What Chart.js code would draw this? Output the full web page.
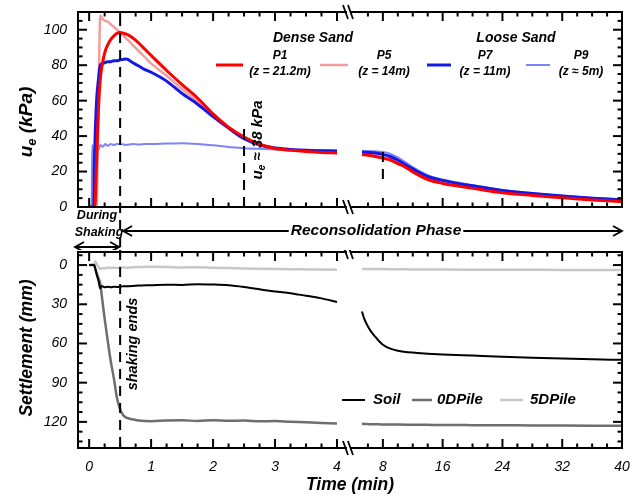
<!DOCTYPE html>
<html>
<head>
<meta charset="utf-8">
<script src="https://cdn.jsdelivr.net/npm/chart.js@4.4.1/dist/chart.umd.min.js"></script>
<style>
body { margin: 0; background: #fff; }
#wrap { position: relative; width: 640px; height: 497px; }
#cTop { position: absolute; left: 0; top: 0; }
#cBot { position: absolute; left: 0; top: 250px; }
</style>
</head>
<body>
<div id="wrap">
<canvas id="cTop" width="640" height="250"></canvas>
<canvas id="cBot" width="640" height="247"></canvas>
</div>
<script>
// ---- excess pore pressure, u_e (kPa) ----
// left part of the broken time axis (min)
var tTopL = [0, 0.04, 0.05, 0.07, 0.09, 0.12, 0.15, 0.18, 0.22, 0.26, 0.3, 0.35, 0.4, 0.45, 0.5, 0.6, 0.7, 0.8, 0.9, 1.0, 1.25, 1.5, 1.75, 2.0, 2.25, 2.5, 2.75, 3.0, 3.25, 3.5, 3.75, 4.0];
var p1L = [0, 0, 0, 0, 0, 25, 55, 72, 82, 88, 91.5, 94.5, 96.5, 98, 98.5, 97.5, 95.5, 92.5, 89, 85.5, 77, 69, 61.5, 52.5, 45, 39.5, 35.5, 33, 32, 31.3, 30.8, 30.5];
var p5L = [0, 0, 0, 0, 0, 0, 60, 108, 106, 105, 104.5, 103, 101.5, 100, 98.5, 95, 91.5, 88, 84.5, 81, 74, 66.5, 59.5, 51.5, 44.5, 39, 35.5, 33.5, 32.5, 31.8, 31.3, 31];
var p7L = [0, 0, 0, 0, 32, 60, 72, 80, 81, 81.5, 82, 82, 82.5, 82.5, 83, 83.5, 81.5, 79.5, 77.5, 76, 71, 64, 58, 51, 44.5, 38.5, 35, 33.3, 32.5, 32, 31.7, 31.5];
var p9L = [0, 0, 35, 28, 33, 34.5, 32, 35, 34, 35.5, 34.5, 35.5, 35, 35.5, 35.5, 35, 35.5, 35.3, 35.5, 35.5, 35.8, 36, 35.6, 34.8, 33.8, 33.2, 32.8, 32.5, 32.3, 32.2, 32, 32];
// right part of the broken time axis (min)
var tTopR = [5.2, 6, 7, 8, 9, 10, 11, 12, 14, 16, 18, 20, 24, 28, 32, 36, 40];
var p1R = [29.5, 29.2, 28.5, 27.5, 26.5, 24.5, 22.5, 19.8, 15.5, 13.3, 11.8, 10.5, 8, 6.5, 5.2, 4, 3];
var p5R = [30.3, 30.1, 29.6, 29, 28, 26, 23.5, 21, 16.5, 14.2, 12.5, 11.1, 8.6, 7, 5.6, 4.4, 3.4];
var p7R = [31, 30.8, 30.5, 29.7, 28.5, 26.5, 24, 21.5, 17.2, 15, 13.3, 12, 9.3, 7.6, 6.2, 5, 4];
var p9R = [31.6, 31.6, 31.4, 31, 30, 28, 25.3, 22.5, 18, 15.5, 13.8, 12.3, 9.6, 7.8, 6.4, 5.2, 4.2];

// ---- settlement (mm) ----
var tBotL = [0, 0.06, 0.08, 0.1, 0.12, 0.15, 0.18, 0.2, 0.25, 0.3, 0.35, 0.4, 0.45, 0.5, 0.55, 0.6, 0.7, 0.8, 1.0, 1.25, 1.5, 1.75, 2.0, 2.25, 2.5, 2.75, 3.0, 3.25, 3.5, 3.75, 4.0];
var soilL = [0, 0, 0, 3, 7, 12, 18, 16, 17, 16.5, 17, 16.5, 16.8, 16.5, 16.3, 16.2, 16, 15.7, 15.4, 15, 15.2, 14.6, 14.9, 15.5, 16.8, 18.5, 20.3, 21.5, 23.5, 25.5, 28.2];
var pile0L = [0, 0, 0, 3, 6, 10, 14, 22, 41, 58, 74, 87, 102, 110.5, 115, 116.8, 118, 119, 119.5, 119, 118.8, 119.3, 118.7, 119.2, 119, 119.6, 119.4, 120, 120.3, 120.8, 121.3];
var pile5L = [0, 0, 0, -3, -1, 1.5, 3, 2.5, 2.5, 2, 2.2, 2, 2.3, 2, 1.8, 2, 1.7, 1.5, 1.3, 1.5, 1.8, 1.6, 2, 2.3, 2.6, 2.8, 3, 3.2, 3.3, 3.4, 3.5];
var tBotR = [5.2, 5.5, 6, 6.5, 7, 7.5, 8, 9, 10, 12, 14, 16, 20, 24, 28, 32, 36, 40];
var soilR = [35.5, 41, 47, 51.5, 55, 58.3, 61, 64, 65.5, 67, 67.8, 68.4, 69.3, 70.2, 71, 71.6, 72.1, 72.5];
var pile0R = [121.5, 121.6, 121.7, 121.8, 121.8, 121.9, 122, 122, 122.1, 122.2, 122.3, 122.4, 122.5, 122.6, 122.7, 122.8, 122.9, 123];
var pile5R = [3, 3, 3, 3, 3.1, 3.1, 3.1, 3.2, 3.2, 3.3, 3.3, 3.4, 3.5, 3.5, 3.6, 3.7, 3.7, 3.8];

// tick labels
var uTicks = [0, 20, 40, 60, 80, 100];
var sTicks = [0, 30, 60, 90, 120];
var tTicksL = [0, 1, 2, 3, 4];
var tTicksR = [8, 16, 24, 32, 40];

// legend text
var probeNames = ['P1', 'P5', 'P7', 'P9'];
var probeDepths = ['(z = 21.2m)', '(z = 14m)', '(z = 11m)', '(z \u2248 5m)'];
var settleNames = ['Soil', '0DPile', '5DPile'];

var shakeEnd = 0.5;   // min
var ueMarkT = 2.5;    // min, u_e ~ 38 kPa marker

var FONT = '"Liberation Sans", Arial, sans-serif';
var probeColors = ['#ff0000', '#f59c9c', '#1418e6', '#7d84f4'];
var probeWidths = [3, 2.5, 3, 2];
var settleColors = ['#000000', '#6e6e6e', '#c8c8c8'];
var settleWidths = [2, 2.5, 2.5];

Chart.defaults.font.family = FONT;
Chart.defaults.color = '#000';

function pts(t, v) {
    return t.map(function (x, i) { return { x: x, y: v[i] }; });
}

function ds(label, t, v, color, w, axis) {
    return {
        label: label, data: pts(t, v), xAxisID: axis, yAxisID: 'y',
        borderColor: color, backgroundColor: color, borderWidth: w,
        pointRadius: 0, fill: false, cubicInterpolationMode: 'monotone'
    };
}

function font(size, bold) {
    return 'italic ' + (bold ? 'bold ' : '') + size + 'px ' + FONT;
}

function seg(ctx, x1, y1, x2, y2) {
    ctx.beginPath(); ctx.moveTo(x1, y1); ctx.lineTo(x2, y2); ctx.stroke();
}

function txt(ctx, s, x, y, size, align) {
    ctx.font = font(size, true);
    ctx.textAlign = align || 'center';
    ctx.textBaseline = 'middle';
    ctx.fillStyle = '#000';
    ctx.fillText(s, x, y);
}

// text with a subscript, parts = [text, size, dy]
function subText(ctx, parts, x, y, rot) {
    ctx.save();
    ctx.translate(x, y);
    if (rot) ctx.rotate(rot);
    var w = 0;
    parts.forEach(function (p) { ctx.font = font(p[1], true); w += ctx.measureText(p[0]).width; });
    var cx = -w / 2;
    ctx.textAlign = 'left'; ctx.textBaseline = 'middle'; ctx.fillStyle = '#000';
    parts.forEach(function (p) {
        ctx.font = font(p[1], true);
        ctx.fillText(p[0], cx, p[2]);
        cx += ctx.measureText(p[0]).width;
    });
    ctx.restore();
}

function arrowHead(ctx, x, y, dir) {
    ctx.beginPath();
    ctx.moveTo(x - dir * 9, y - 5); ctx.lineTo(x, y); ctx.lineTo(x - dir * 9, y + 5);
    ctx.stroke();
}

function isMajor(v, step) {
    return Math.abs(v / step - Math.round(v / step)) < 1e-6;
}

// box with inward ticks on all four sides and the axis break marks, drawn last
function framePlugin(conf) {
    return {
        id: 'frameTicks',
        afterDraw: function (chart) {
            var ctx = chart.ctx, a = chart.chartArea;
            ctx.save();
            ctx.setLineDash([]);
            ctx.globalAlpha = 1;
            ctx.strokeStyle = '#000';
            ctx.lineWidth = 2;
            conf.x.forEach(function (c) {
                var s = chart.scales[c.id];
                var k0 = Math.ceil(s.min / c.minor - 1e-9), k1 = Math.floor(s.max / c.minor + 1e-9);
                for (var k = k0; k <= k1; k++) {
                    var v = k * c.minor, px = s.getPixelForValue(v);
                    if (px < s.left + 3 || px > s.right - 2) continue;
                    var len = isMajor(v, c.major) ? 9 : 4.5;
                    seg(ctx, px, a.top, px, a.top + len);
                    seg(ctx, px, a.bottom, px, a.bottom - len);
                }
            });
            var sy = chart.scales.y;
            var j0 = Math.ceil(sy.min / conf.y.minor - 1e-9), j1 = Math.floor(sy.max / conf.y.minor + 1e-9);
            for (var j = j0; j <= j1; j++) {
                var vy = j * conf.y.minor, py = sy.getPixelForValue(vy);
                if (py < a.top + 2 || py > a.bottom - 2) continue;
                var ly = isMajor(vy, conf.y.major) ? 9 : 4.5;
                seg(ctx, a.left, py, a.left + ly, py);
                seg(ctx, a.right, py, a.right - ly, py);
            }
            ctx.strokeRect(a.left, a.top, a.right - a.left, a.bottom - a.top);
            var bx = chart.scales.xL.right;
            ctx.lineWidth = 1.8;
            [a.top, a.bottom].forEach(function (yy) {
                ctx.fillStyle = '#fff';
                ctx.fillRect(bx - 3, yy - 1.5, 4, 3);
                seg(ctx, bx - 7, yy - 7, bx - 2, yy + 7);
                seg(ctx, bx - 2, yy - 7, bx + 3, yy + 7);
            });
            ctx.restore();
        }
    };
}

function xScale(min, max, ticks, labels, h) {
    return {
        type: 'linear', position: 'bottom', stack: 'time', stackWeight: 1,
        min: min, max: max,
        afterBuildTicks: function (s) { s.ticks = ticks.map(function (v) { return { value: v }; }); },
        afterFit: function (s) { s.height = h; s.paddingLeft = 0; s.paddingRight = 0; s.paddingTop = 0; s.paddingBottom = 0; },
        grid: { display: false, drawTicks: false },
        border: { display: false },
        ticks: { display: labels, padding: 11, autoSkip: false, maxRotation: 0, font: { size: 14, style: 'italic' }, color: '#000' }
    };
}

function yScale(min, max, ticks, rev) {
    return {
        type: 'linear', position: 'left', min: min, max: max, reverse: !!rev,
        afterBuildTicks: function (s) { s.ticks = ticks.map(function (v) { return { value: v }; }); },
        afterFit: function (s) { s.width = 78; s.paddingLeft = 0; s.paddingRight = 0; s.paddingTop = 0; s.paddingBottom = 0; },
        grid: { display: false, drawTicks: false },
        border: { display: false },
        ticks: { padding: 11, font: { size: 14, style: 'italic' }, color: '#000' }
    };
}

var tickConfTop = { x: [{ id: 'xL', minor: 0.25, major: 1 }, { id: 'xR', minor: 2, major: 8 }], y: { minor: 5, major: 20 } };
var tickConfBot = { x: [{ id: 'xL', minor: 0.25, major: 1 }, { id: 'xR', minor: 2, major: 8 }], y: { minor: 7.5, major: 30 } };

var topDecor = {
    id: 'topDecor',
    afterDatasetsDraw: function (chart) {
        var ctx = chart.ctx, a = chart.chartArea;
        var xL = chart.scales.xL, xR = chart.scales.xR, y = chart.scales.y;
        var xs = xL.getPixelForValue(shakeEnd);
        var xe = xL.getPixelForValue(ueMarkT);
        var x8 = xR.getPixelForValue(8);
        ctx.save();
        ctx.strokeStyle = '#000'; ctx.lineWidth = 2; ctx.setLineDash([10, 7]);
        seg(ctx, xs, a.top + 4, xs, chart.height);
        seg(ctx, xe, y.getPixelForValue(44), xe, a.bottom);
        seg(ctx, x8, y.getPixelForValue(31), x8, y.getPixelForValue(12));
        ctx.restore();

        ctx.save();
        // sand labels and legend
        txt(ctx, 'Dense Sand', 313, 38, 14);
        txt(ctx, 'Loose Sand', 516, 38, 14);
        var sx = [[216, 243], [320, 348], [427, 451], [526, 550]];
        var cx = [280, 384, 485, 581];
        probeNames.forEach(function (n, i) {
            ctx.strokeStyle = probeColors[i]; ctx.lineWidth = probeWidths[i];
            seg(ctx, sx[i][0], 65, sx[i][1], 65);
            txt(ctx, n, cx[i], 56, 12);
            txt(ctx, probeDepths[i], cx[i], 72, 12);
        });
        // u_e marker text
        subText(ctx, [['u', 15, 0], ['e', 10.5, 4], [' \u2248 38 kPa', 15, 0]], xe + 14, 140, -Math.PI / 2);
        // axis title
        subText(ctx, [['u', 19, 0], ['e', 13, 5], [' (kPa)', 19, 0]], 27, 122, -Math.PI / 2);

        // phases between the panels
        txt(ctx, 'During', 97, 216, 12.5);
        txt(ctx, 'Shaking', 99, 233, 12.5);
        ctx.strokeStyle = '#000'; ctx.lineWidth = 1.8; ctx.setLineDash([]);
        seg(ctx, 75, 247, xs - 1, 247);
        arrowHead(ctx, 75, 247, -1);
        arrowHead(ctx, xs - 1, 247, 1);
        var label = 'Reconsolidation Phase';
        ctx.font = font(15.5, true);
        var tw = ctx.measureText(label).width;
        var mid = 376, ya = 231;
        txt(ctx, label, mid, ya, 15.5);
        seg(ctx, xs + 3, ya, mid - tw / 2 - 2, ya);
        seg(ctx, mid + tw / 2 + 2, ya, a.right, ya);
        arrowHead(ctx, xs + 3, ya, -1);
        arrowHead(ctx, a.right, ya, 1);
        ctx.restore();
    }
};

var botDecor = {
    id: 'botDecor',
    afterDatasetsDraw: function (chart) {
        var ctx = chart.ctx, a = chart.chartArea;
        var xL = chart.scales.xL;
        var xs = xL.getPixelForValue(shakeEnd);
        ctx.save();
        ctx.strokeStyle = '#000'; ctx.lineWidth = 2; ctx.setLineDash([10, 7]);
        seg(ctx, xs, 0, xs, a.bottom);
        ctx.restore();

        ctx.save();
        ctx.translate(xs + 13, 94);
        ctx.rotate(-Math.PI / 2);
        txt(ctx, 'shaking ends', 0, 0, 14.5);
        ctx.restore();

        ctx.save();
        var sx = [[342, 365], [412, 432], [500, 523]];
        var tx = [373, 437, 530];
        settleNames.forEach(function (n, i) {
            ctx.strokeStyle = settleColors[i]; ctx.lineWidth = settleWidths[i];
            seg(ctx, sx[i][0], 150, sx[i][1], 150);
            txt(ctx, n, tx[i], 150, 15, 'left');
        });
        ctx.translate(27, 98);
        ctx.rotate(-Math.PI / 2);
        txt(ctx, 'Settlement (mm)', 0, 0, 17.5);
        ctx.restore();
        txt(ctx, 'Time (min)', xL.right, 235, 17.5);
    }
};

function baseOpts(pad, scales) {
    return {
        responsive: false, animation: false, devicePixelRatio: 1, events: [],
        plugins: { legend: { display: false }, tooltip: { enabled: false } },
        layout: { padding: pad },
        scales: scales
    };
}

new Chart(document.getElementById('cTop'), {
    type: 'line',
    data: {
        datasets: [
            ds('P1', tTopL, p1L, probeColors[0], probeWidths[0], 'xL'),
            ds('P1', tTopR, p1R, probeColors[0], probeWidths[0], 'xR'),
            ds('P7', tTopL, p7L, probeColors[2], probeWidths[2], 'xL'),
            ds('P7', tTopR, p7R, probeColors[2], probeWidths[2], 'xR'),
            ds('P5', tTopL, p5L, probeColors[1], probeWidths[1], 'xL'),
            ds('P5', tTopR, p5R, probeColors[1], probeWidths[1], 'xR'),
            ds('P9', tTopL, p9L, probeColors[3], probeWidths[3], 'xL'),
            ds('P9', tTopR, p9R, probeColors[3], probeWidths[3], 'xR')
        ]
    },
    options: baseOpts({ left: 0, right: 18, top: 12, bottom: 0 }, {
        xL: xScale(-0.18, 4.21, tTicksL, false, 43),
        xR: xScale(3.6, 40, tTicksR, false, 43),
        y: yScale(0, 110, uTicks, false)
    }),
    plugins: [topDecor, framePlugin(tickConfTop)]
});

new Chart(document.getElementById('cBot'), {
    type: 'line',
    data: {
        datasets: [
            ds('Soil', tBotL, soilL, settleColors[0], settleWidths[0], 'xL'),
            ds('Soil', tBotR, soilR, settleColors[0], settleWidths[0], 'xR'),
            ds('0DPile', tBotL, pile0L, settleColors[1], settleWidths[1], 'xL'),
            ds('0DPile', tBotR, pile0R, settleColors[1], settleWidths[1], 'xR'),
            ds('5DPile', tBotL, pile5L, settleColors[2], settleWidths[2], 'xL'),
            ds('5DPile', tBotR, pile5R, settleColors[2], settleWidths[2], 'xR')
        ]
    },
    options: baseOpts({ left: 0, right: 18, top: 2, bottom: 0 }, {
        xL: xScale(-0.18, 4.21, tTicksL, true, 49),
        xR: xScale(3.6, 40, tTicksR, true, 49),
        y: yScale(-10, 140, sTicks, true)
    }),
    plugins: [botDecor, framePlugin(tickConfBot)]
});
</script>
</body>
</html>
